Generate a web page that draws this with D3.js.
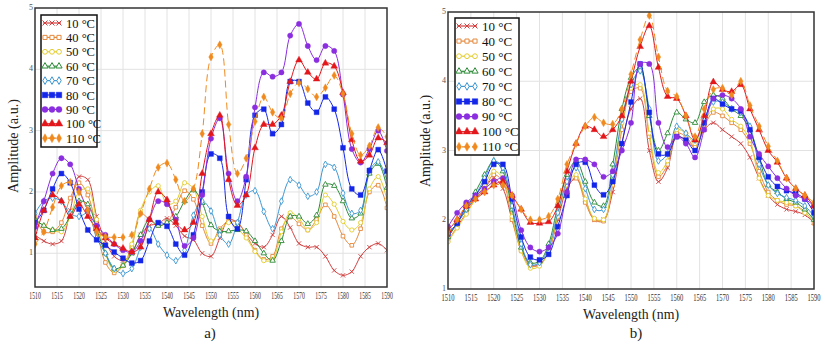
<!DOCTYPE html>
<html>
<head>
<meta charset="utf-8">
<script src="https://cdn.jsdelivr.net/npm/d3@7"></script>
<style>
  body { margin: 0; background: #fff; }
  #chart text { font-family: "Times New Roman", Tinos, "Liberation Serif", "DejaVu Serif", "Noto Serif", Times, serif; }
</style>
</head>
<body>
<svg id="chart" width="825" height="345"></svg>
<script>
// wavelength samples (nm), one every 2 nm
const wavelengths = d3.range(1510, 1591, 2);
const temps = ['10 °C', '40 °C', '50 °C', '60 °C', '70 °C', '80 °C', '90 °C', '100 °C', '110 °C'];
const xTicks = d3.range(1510, 1591, 5);
const yTicks = [1, 2, 3, 4, 5];

// panel a) amplitudes
const a10  = [1.3,1.2,1.15,1.2,1.7,2.25,2.2,1.6,1.2,0.95,0.88,1.0,1.3,1.45,1.48,1.57,1.45,1.28,1.22,1.0,0.95,1.25,1.55,1.5,1.32,1.16,1.1,1.3,1.6,1.42,1.16,1.1,1.1,0.95,0.72,0.64,0.7,0.95,1.1,1.16,1.05];
const a40  = [1.6,1.35,1.35,1.5,1.9,2.15,1.95,1.4,0.85,0.68,0.8,1.1,1.65,1.55,1.45,1.5,1.75,2.02,1.88,1.45,1.16,1.4,1.52,1.5,1.3,1.05,0.9,0.95,1.4,1.59,1.48,1.38,1.55,1.79,1.6,1.28,1.13,1.4,2.0,2.11,1.74];
const a50  = [1.55,1.45,1.38,1.35,1.6,2.0,2.05,1.55,1.0,0.72,0.8,1.15,1.7,2.0,2.1,1.8,1.85,2.15,2.05,1.6,1.2,1.35,1.5,1.4,1.25,1.03,0.88,0.9,1.35,1.66,1.57,1.38,1.5,1.95,1.8,1.52,1.38,1.5,2.05,2.25,1.87];
const a60  = [1.55,1.45,1.38,1.4,1.6,1.85,1.8,1.4,1.0,0.75,0.8,1.0,1.3,1.55,1.45,1.5,1.6,1.85,2.03,1.82,1.46,1.36,1.36,1.38,1.36,1.2,1.0,0.88,1.2,1.6,1.6,1.48,1.62,2.12,2.1,1.85,1.57,1.65,2.3,2.46,2.07];
const a70  = [1.65,1.85,1.9,1.85,1.65,1.6,1.65,1.25,1.0,0.75,0.67,0.75,1.1,1.4,1.15,0.97,0.88,1.05,1.62,1.85,1.69,1.3,1.15,1.5,1.95,2.02,1.68,1.4,1.85,2.2,2.11,1.93,2.0,2.45,2.4,1.98,1.65,1.7,2.35,2.49,2.18];
const a80  = [1.5,1.7,2.05,2.3,2.15,1.72,1.38,1.22,1.13,1.02,0.92,0.84,0.88,1.2,1.5,1.44,1.15,0.97,1.3,2.0,2.62,2.55,1.6,1.4,2.2,3.25,3.35,2.95,3.1,3.8,3.8,3.45,3.3,3.55,3.35,2.72,2.05,1.95,2.35,2.69,2.34];
const a90  = [1.43,1.85,2.3,2.55,2.45,2.05,1.7,1.45,1.3,1.15,1.05,1.02,1.2,1.55,1.85,1.8,1.55,1.12,1.25,1.95,2.87,3.2,2.3,1.85,2.25,3.38,3.95,3.88,3.95,4.55,4.74,4.38,4.15,4.38,4.3,3.59,2.7,2.48,2.7,3.0,2.67];
const a100 = [1.25,1.7,1.95,1.85,1.6,1.8,1.6,1.4,1.25,1.15,1.08,1.02,1.1,1.55,2.0,1.87,1.5,1.38,1.5,2.3,2.95,3.25,2.2,1.78,1.95,2.72,3.1,3.1,3.25,3.8,4.15,3.95,3.84,4.1,4.05,3.62,2.85,2.5,2.6,2.88,2.8];
const a110 = [1.15,1.35,1.75,2.1,2.16,2.0,1.7,1.35,1.27,1.26,1.26,1.3,1.65,2.05,2.4,2.47,2.2,1.85,2.05,2.95,4.2,4.4,3.1,2.3,2.55,3.15,3.55,3.3,3.2,3.6,3.78,3.68,3.55,3.7,3.9,3.6,2.95,2.6,2.75,3.05,2.9];

// panel b) amplitudes
const b10  = [1.75,1.95,2.15,2.3,2.45,2.6,2.45,2.0,1.6,1.35,1.35,1.55,2.0,2.45,2.6,2.3,2.0,2.0,2.4,3.1,3.6,3.75,3.0,2.55,2.75,3.2,3.15,3.05,3.3,3.4,3.3,3.2,3.1,2.9,2.6,2.35,2.22,2.15,2.12,2.07,1.96];
const b40  = [1.7,1.9,2.1,2.3,2.45,2.65,2.55,2.0,1.55,1.33,1.35,1.55,2.05,2.5,2.6,2.25,2.0,1.98,2.5,3.3,3.85,3.9,3.2,2.62,2.8,3.25,3.2,3.05,3.35,3.55,3.5,3.4,3.3,3.1,2.7,2.4,2.28,2.22,2.2,2.12,1.95];
const b50  = [1.68,1.88,2.08,2.3,2.5,2.7,2.6,2.05,1.55,1.3,1.33,1.55,2.05,2.5,2.65,2.3,2.02,2.0,2.55,3.4,3.9,3.95,3.25,2.68,2.85,3.3,3.25,3.1,3.4,3.6,3.6,3.45,3.35,3.15,2.6,2.35,2.28,2.25,2.2,2.1,2.0];
const b60  = [1.75,1.95,2.15,2.4,2.65,2.85,2.7,2.15,1.6,1.38,1.4,1.65,2.2,2.65,2.85,2.55,2.25,2.2,2.8,3.6,4.05,4.2,3.5,3.0,3.25,3.55,3.45,3.4,3.7,3.8,3.75,3.6,3.5,3.3,2.9,2.5,2.4,2.3,2.25,2.15,2.0];
const b70  = [1.78,1.95,2.15,2.35,2.6,2.85,2.75,2.2,1.65,1.35,1.38,1.6,2.1,2.55,2.75,2.45,2.15,2.15,2.65,3.45,3.95,4.15,3.6,2.85,2.95,3.35,3.25,3.15,3.45,3.7,3.7,3.6,3.55,3.35,2.8,2.5,2.38,2.32,2.28,2.2,2.05];
const b80  = [1.8,1.95,2.2,2.35,2.55,2.8,2.8,2.3,1.75,1.46,1.42,1.5,1.9,2.35,2.8,2.83,2.5,2.36,2.55,3.1,3.7,4.25,3.55,2.95,2.95,3.2,3.15,3.0,3.4,3.75,3.67,3.6,3.57,3.3,2.9,2.62,2.48,2.42,2.38,2.3,2.1];
const b90  = [1.9,2.1,2.25,2.35,2.45,2.55,2.6,2.35,1.85,1.6,1.54,1.6,1.8,2.4,2.87,2.87,2.8,2.62,2.7,3.0,3.4,4.25,4.25,3.4,3.05,3.2,3.1,2.9,3.3,3.75,3.8,3.75,3.6,3.2,2.95,2.77,2.6,2.45,2.35,2.3,2.2];
const b100 = [1.85,2.0,2.2,2.3,2.4,2.5,2.55,2.35,2.15,1.96,1.95,1.97,2.2,2.7,3.1,3.35,3.3,3.2,3.3,3.5,4.0,4.5,4.8,4.2,3.78,3.75,3.5,3.15,3.5,3.99,3.88,3.85,3.95,3.6,3.3,3.0,2.83,2.6,2.45,2.35,2.2];
const b110 = [1.8,2.0,2.2,2.3,2.4,2.5,2.5,2.35,2.15,2.0,2.0,2.05,2.3,2.8,3.1,3.35,3.48,3.4,3.38,3.6,4.1,4.6,4.95,4.35,3.86,3.78,3.5,3.2,3.6,3.88,3.9,3.8,4.0,3.65,3.35,3.06,2.85,2.6,2.45,2.35,2.25];

const seriesA = [a10, a40, a50, a60, a70, a80, a90, a100, a110];
const seriesB = [b10, b40, b50, b60, b70, b80, b90, b100, b110];

// look of each temperature
const styles = [
  { color: '#d1403f', symbol: d3.symbolTimes || d3.symbolCross, size: 14, open: true, stroke: true },
  { color: '#e5883b', symbol: d3.symbolSquare, size: 13, open: true },
  { color: '#e3cd2d', symbol: d3.symbolCircle, size: 14, open: true },
  { color: '#2b8a36', symbol: d3.symbolTriangle, size: 13, open: true },
  { color: '#3d97d3', symbol: d3.symbolDiamond, size: 13, open: true },
  { color: '#1426e8', symbol: d3.symbolSquare, size: 24 },
  { color: '#8a2ee0', symbol: d3.symbolCircle, size: 22 },
  { color: '#e3171b', symbol: d3.symbolTriangle, size: 20 },
  { color: '#f08a1e', symbol: d3.symbolDiamond, size: 18, dash: '7,4' }
];

const svg = d3.select('#chart');

function drawPanel(p) {
  const x = d3.scaleLinear().domain([1510, 1590]).range([p.left, p.right]);
  const y = d3.scaleLinear().domain(p.yDomain).range([p.bottom, p.top]);
  const g = svg.append('g');

  // grid
  g.selectAll('.vgrid')
    .data(xTicks.slice(1, -1))
    .enter()
    .append('line')
    .attr('x1', d => x(d)).attr('x2', d => x(d))
    .attr('y1', p.top).attr('y2', p.bottom)
    .attr('stroke', '#e2e2e2').attr('stroke-width', 1);

  g.selectAll('.hgrid')
    .data(yTicks.filter(d => y(d) < p.bottom - 2 && y(d) > p.top + 2))
    .enter()
    .append('line')
    .attr('x1', p.left).attr('x2', p.right)
    .attr('y1', d => y(d)).attr('y2', d => y(d))
    .attr('stroke', '#e2e2e2').attr('stroke-width', 1);

  const clipId = 'clip' + p.name;
  svg.append('clipPath').attr('id', clipId)
    .append('rect')
    .attr('x', p.left).attr('y', p.top)
    .attr('width', p.right - p.left).attr('height', p.bottom - p.top);

  const line = d3.line()
    .x(d => x(d[0]))
    .y(d => y(d[1]))
    .curve(d3.curveCatmullRom.alpha(0.5));

  const plot = g.append('g').attr('clip-path', `url(#${clipId})`);

  p.series.forEach((vals, i) => {
    const st = styles[i];
    const pts = wavelengths.map((w, k) => [w, vals[k]]);
    plot.append('path')
      .datum(pts)
      .attr('d', line)
      .attr('fill', 'none')
      .attr('stroke', st.color)
      .attr('stroke-width', 1)
      .attr('stroke-dasharray', st.dash || null);

    plot.selectAll('.m' + i)
      .data(pts)
      .enter()
      .append('path')
      .attr('transform', d => `translate(${x(d[0])},${y(d[1])})`)
      .attr('d', d3.symbol().type(st.symbol).size(st.size))
      .attr('fill', st.stroke ? 'none' : (st.open ? '#fff' : st.color))
      .attr('stroke', st.color)
      .attr('stroke-width', st.open ? 0.9 : 0.4);
  });

  // frame
  g.append('rect')
    .attr('x', p.left).attr('y', p.top)
    .attr('width', p.right - p.left).attr('height', p.bottom - p.top)
    .attr('fill', 'none').attr('stroke', '#333').attr('stroke-width', 1.5);

  // x tick labels
  g.selectAll('.xl')
    .data(xTicks)
    .enter()
    .append('text')
    .attr('x', d => x(d))
    .attr('y', p.bottom + 12)
    .attr('text-anchor', 'middle')
    .attr('font-size', 9.5)
    .attr('textLength', p.tickLen)
    .attr('lengthAdjust', 'spacingAndGlyphs')
    .attr('fill', '#333')
    .text(d => d);

  // y tick labels
  g.selectAll('.yl')
    .data(yTicks)
    .enter()
    .append('text')
    .attr('x', p.left - 2)
    .attr('y', d => y(d) + 2)
    .attr('text-anchor', 'end')
    .attr('font-size', 8)
    .attr('fill', '#555')
    .text(d => d);

  // axis titles
  g.append('text')
    .attr('x', (p.left + p.right) / 2)
    .attr('y', p.bottom + 30)
    .attr('text-anchor', 'middle')
    .attr('font-size', 15)
    .attr('textLength', 96)
    .attr('lengthAdjust', 'spacingAndGlyphs')
    .attr('fill', '#222')
    .text('Wavelength (nm)');

  g.append('text')
    .attr('transform', `translate(${p.yTitleX},${p.yTitleY}) rotate(-90)`)
    .attr('text-anchor', 'middle')
    .attr('font-size', 15)
    .attr('textLength', p.yTitleLen)
    .attr('lengthAdjust', 'spacingAndGlyphs')
    .attr('fill', '#222')
    .text('Amplitude (a.u.)');

  g.append('text')
    .attr('x', p.tagX)
    .attr('y', 338)
    .attr('text-anchor', 'middle')
    .attr('font-size', 15)
    .attr('fill', '#222')
    .text(p.tag);

  // legend
  const lg = p.legend;
  g.append('rect')
    .attr('x', lg.x).attr('y', lg.y)
    .attr('width', lg.w).attr('height', lg.h)
    .attr('fill', '#fff').attr('stroke', '#111').attr('stroke-width', 1.5);

  temps.forEach((t, i) => {
    const st = styles[i];
    const cy = lg.y0 + i * lg.step;
    g.append('line')
      .attr('x1', lg.x + 2).attr('x2', lg.x + 2 + lg.lineW)
      .attr('y1', cy).attr('y2', cy)
      .attr('stroke', st.color).attr('stroke-width', 1.2)
      .attr('stroke-dasharray', st.dash ? '3,2' : null);
    [0, 0.5, 1].forEach(f => {
      g.append('path')
        .attr('transform', `translate(${lg.x + 4 + f * (lg.lineW - 4)},${cy})`)
        .attr('d', d3.symbol().type(st.symbol).size(st.size * 1.3))
        .attr('fill', st.stroke ? 'none' : (st.open ? '#fff' : st.color))
        .attr('stroke', st.color)
        .attr('stroke-width', st.open ? 1 : 0.4);
    });
    g.append('text')
      .attr('x', lg.x + lg.lineW + 7)
      .attr('y', cy + 4.5)
      .attr('font-size', lg.font)
      .attr('fill', '#111')
      .text(t);
  });
}

drawPanel({
  name: 'a', left: 35, right: 387, top: 8, bottom: 287,
  yDomain: [0.45, 5], series: seriesA, tickLen: 11.5,
  yTitleX: 18, yTitleY: 146, yTitleLen: 94,
  tag: 'a)', tagX: 210,
  legend: { x: 41, y: 15, w: 56, h: 132, y0: 23, step: 14.4, lineW: 18, font: 12.5 }
});

drawPanel({
  name: 'b', left: 448, right: 814, top: 12, bottom: 289,
  yDomain: [1, 5], series: seriesB, tickLen: 13,
  yTitleX: 430, yTitleY: 141, yTitleLen: 92,
  tag: 'b)', tagX: 636,
  legend: { x: 455, y: 18, w: 64, h: 137, y0: 26, step: 15.1, lineW: 20, font: 13 }
});
</script>
</body>
</html>
